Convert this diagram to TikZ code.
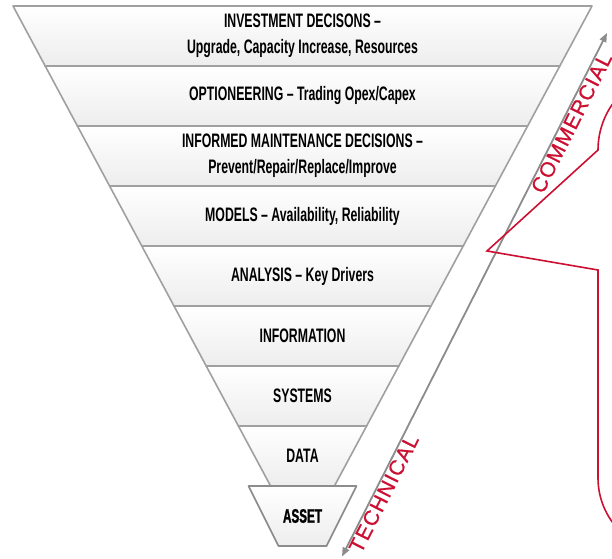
\documentclass[tikz,border=0pt]{standalone}
\usepackage{fontspec}
\setmainfont{Liberation Sans}
\newfontfamily\cnd[FakeStretch=0.63]{Liberation Sans Bold}
\newfontfamily\cndbold[FakeStretch=0.60,FakeBold=1.2]{Liberation Sans Bold}
\newfontfamily\lblfont[LetterSpace=6,FakeBold=0.8]{Liberation Sans}
\usetikzlibrary{arrows.meta}
\definecolor{crim}{RGB}{204,16,50}
\definecolor{bandline}{RGB}{160,160,160}
\definecolor{arrowgray}{RGB}{140,140,140}
\begin{document}
\begin{tikzpicture}[x=1pt,y=1pt,
  band/.style={draw=bandline, line width=1.6pt, top color=white, bottom color=black!7, line join=round},
  lbl/.style={font=\cnd\fontsize{19.5}{26}\selectfont, align=center, inner sep=0pt},
  side/.style={font=\lblfont\fontsize{21}{24}\selectfont, text=crim, sloped, inner sep=0.5pt},
  callout/.style={draw=crim, line width=1.6pt, line join=miter},
  updown/.style={draw=arrowgray, line width=1.8pt, {Triangle[length=9pt,width=7pt]}-{Triangle[length=9pt,width=7pt]}}
]
\useasboundingbox (0,0) rectangle (612,558);
\clip (0,0) rectangle (612,558);
\fill[white] (0,0) rectangle (612,558);

\def\cx{302.5}
\foreach \k in {0,...,7} {
  \pgfmathsetmacro\ya{552-60*\k}
  \pgfmathsetmacro\yb{492-60*\k}
  \pgfmathsetmacro\ha{289.5-32.2*\k}
  \pgfmathsetmacro\hb{257.3-32.2*\k}
  \path[band] (\cx-\ha,\ya) -- (\cx+\ha,\ya) -- (\cx+\hb,\yb) -- (\cx-\hb,\yb) -- cycle;
}
\path[band, draw=black!45] (248.5,72) -- (356.5,72) -- (326.5,12) -- (278.5,12) -- cycle;

\node[lbl] (t1) at (\cx,522) {INVESTMENT DECISONS –\\Upgrade, Capacity Increase, Resources};
\node[lbl] (t2) at (\cx,462) {OPTIONEERING – Trading Opex/Capex};
\node[lbl] (t3) at (\cx,402) {INFORMED MAINTENANCE DECISIONS –\\Prevent/Repair/Replace/Improve};
\node[lbl] (t4) at (\cx,342) {MODELS – Availability, Reliability};
\node[lbl] (t5) at (\cx,282) {ANALYSIS – Key Drivers};
\node[lbl] (t6) at (\cx,222) {INFORMATION};
\node[lbl] (t7) at (\cx,162) {SYSTEMS};
\node[lbl] (t8) at (\cx,102) {DATA};
\node[lbl, font=\cndbold\fontsize{19.5}{26}\selectfont] (t9) at (\cx,42) {ASSET};

\coordinate (A) at (342,1.5);
\coordinate (B) at (607,525);
\draw[updown] (A) -- (B)
  node[side, pos=0.128, below] (tech) {TECHNICAL}
  node[side, pos=0.836, below] (comm) {COMMERCIAL};

\draw[callout] (800,488) -- (678,488) arc[start angle=90,end angle=180,radius=80]
  -- (598,408) -- (487,307) -- (598,288) -- (598,80)
  arc[start angle=180,end angle=270,radius=75] -- (800,5);
\end{tikzpicture}
\end{document}
